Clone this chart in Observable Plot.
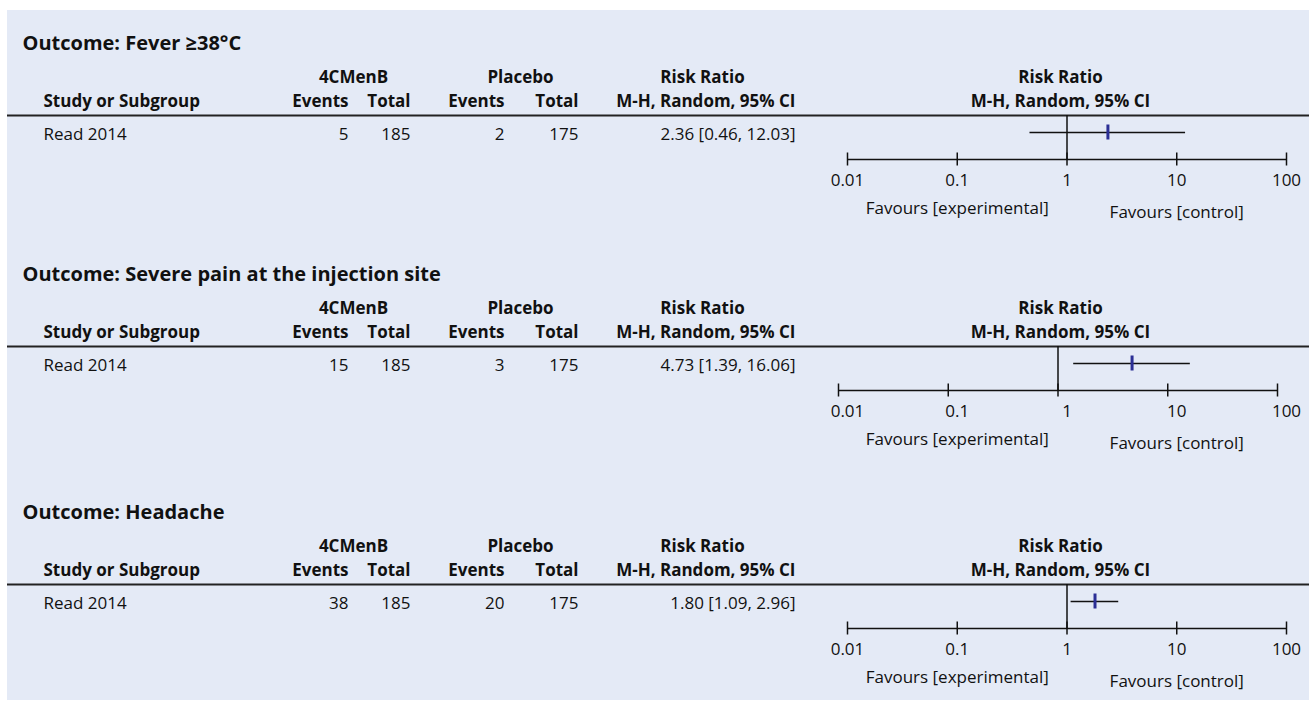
<!DOCTYPE html>
<html><head><meta charset="utf-8">
<script src="https://cdn.jsdelivr.net/npm/d3@7"></script>
<script src="https://cdn.jsdelivr.net/npm/@observablehq/plot@0.6"></script>
<style>
body{margin:0;background:#fff;}
#chart{position:absolute;left:7px;top:10px;width:1302px;height:690px;background:#e4eaf6;}
#chart svg{position:absolute;left:0;}
</style></head><body><div id="chart"></div>
<script>
// ---- data ----
const outcomes = ["Outcome: Fever \u226538\u00b0C", "Outcome: Severe pain at the injection site", "Outcome: Headache"];
const studies = ["Read 2014", "Read 2014", "Read 2014"];
const expEvents = [5, 15, 38];
const expTotal = [185, 185, 185];
const ctrlEvents = [2, 3, 20];
const ctrlTotal = [175, 175, 175];
const riskRatio = [2.36, 4.73, 1.80];
const ciLow = [0.46, 1.39, 1.09];
const ciHigh = [12.03, 16.06, 2.96];
const axisTicks = [0.01, 0.1, 1, 10, 100];
const tickLabels = ["0.01", "0.1", "1", "10", "100"];
const groupHeaders = ["4CMenB", "Placebo", "Risk Ratio", "Risk Ratio"];
const subHeaders = ["Study or Subgroup", "Events", "Total", "Events", "Total", "M-H, Random, 95% CI", "M-H, Random, 95% CI"];
const favours = ["Favours [experimental]", "Favours [control]"];

// ---- layout ----
const W = 1302;
const FONT = "'Open Sans', sans-serif";
const INK = "#111";
const FS = 17;
const panelTops = [0, 231, 469];
const panelH = [231, 238, 221];
const xRanges = [[840, 1279], [831, 1270], [840, 1279]];
const labelShift = [0, 9, 0];
const Y = {title: 33, hdr1: 67, hdr2: 91, line: 105, row: 124, ci: 122, axis: 149, tick: 170, favExp: 198, favCtl: 202};
const fmt = d3.format(".2f");
const chart = document.getElementById("chart");

for (let i = 0; i < 3; i++) {
  const row = [{study: studies[i], ee: expEvents[i], et: expTotal[i], ce: ctrlEvents[i], ct: ctrlTotal[i],
                rr: riskRatio[i], lo: ciLow[i], hi: ciHigh[i]}];
  const H = panelH[i];
  const one = [0];
  const txt = (text, dx, y, o = {}) => Plot.text(one, {frameAnchor: "left", y: () => y, dx, text: () => text,
      fontSize: FS, fill: INK, ...o});
  const bold = {fontWeight: "bold"};
  const sh = labelShift[i];
  const cell = (field, dx, anchor) => Plot.text(row, {frameAnchor: "left", y: () => Y.row, dx, text: field,
      textAnchor: anchor, fontSize: FS, fill: INK});
  const plot = Plot.plot({
    width: W, height: H, margin: 0,
    style: {background: "transparent", fontFamily: FONT, overflow: "visible"},
    x: {type: "log", domain: [axisTicks[0], axisTicks[axisTicks.length - 1]], range: xRanges[i], axis: null},
    y: {type: "linear", domain: [0, H], range: [0, H], axis: null},
    marks: [
      txt(outcomes[i], 15, Y.title, {fontSize: 20, fontWeight: "bold", textAnchor: "start"}),
      // group headers
      txt(groupHeaders[0], 346, Y.hdr1, {...bold, textAnchor: "middle"}),
      txt(groupHeaders[1], 513, Y.hdr1, {...bold, textAnchor: "middle"}),
      txt(groupHeaders[2], 695, Y.hdr1, {...bold, textAnchor: "middle"}),
      txt(groupHeaders[3], 1053, Y.hdr1, {...bold, textAnchor: "middle"}),
      // sub headers
      txt(subHeaders[0], 36, Y.hdr2, {...bold, textAnchor: "start"}),
      txt(subHeaders[1], 341, Y.hdr2, {...bold, textAnchor: "end"}),
      txt(subHeaders[2], 403, Y.hdr2, {...bold, textAnchor: "end"}),
      txt(subHeaders[3], 497, Y.hdr2, {...bold, textAnchor: "end"}),
      txt(subHeaders[4], 571, Y.hdr2, {...bold, textAnchor: "end"}),
      txt(subHeaders[5], 788, Y.hdr2, {...bold, textAnchor: "end"}),
      txt(subHeaders[6], 1053, Y.hdr2, {...bold, textAnchor: "middle"}),
      Plot.ruleY([Y.line], {stroke: "#222", strokeWidth: 2}),
      // table row
      cell("study", 36, "start"),
      cell("ee", 341, "end"),
      cell("et", 403, "end"),
      cell("ce", 497, "end"),
      cell("ct", 571, "end"),
      cell(d => `${fmt(d.rr)} [${fmt(d.lo)}, ${fmt(d.hi)}]`, 788, "end"),
      // forest plot
      Plot.ruleX([1], {y1: () => Y.line, y2: () => Y.axis, stroke: INK, strokeWidth: 1.5}),
      Plot.ruleY(row, {x1: "lo", x2: "hi", y: () => Y.ci, stroke: INK, strokeWidth: 1.5}),
      Plot.ruleX(row, {x: "rr", y1: () => Y.ci - 7.5, y2: () => Y.ci + 7.5, stroke: "#2b2f95", strokeWidth: 3}),
      // axis
      Plot.ruleY([Y.axis], {x1: () => axisTicks[0], x2: () => axisTicks[axisTicks.length - 1], stroke: INK, strokeWidth: 1.5}),
      Plot.ruleX(axisTicks, {x: d => d, y1: () => Y.axis - 6.5, y2: () => Y.axis + 6.5, stroke: INK, strokeWidth: 1.5}),
      Plot.text(axisTicks, {x: d => d, y: () => Y.tick, dx: sh, text: (d, j) => tickLabels[j], fontSize: FS, fill: INK}),
      Plot.text([axisTicks[1]], {x: d => d, y: () => Y.favExp, dx: sh, text: () => favours[0], fontSize: FS, fill: INK}),
      Plot.text([axisTicks[3]], {x: d => d, y: () => Y.favCtl, dx: sh, text: () => favours[1], fontSize: FS, fill: INK})
    ]
  });
  plot.style.top = panelTops[i] + "px";
  chart.appendChild(plot);
}
</script></body></html>
